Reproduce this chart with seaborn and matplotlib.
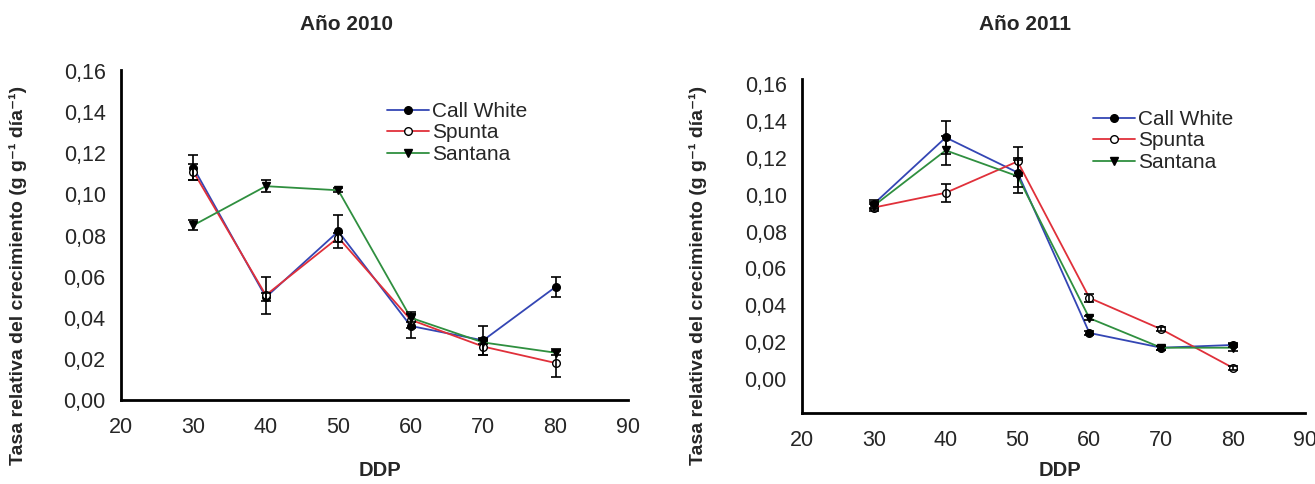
import numpy as np
import pandas as pd
import matplotlib
matplotlib.use("Agg")
import matplotlib.pyplot as plt
from matplotlib.ticker import FuncFormatter
import seaborn as sns

# datos
ddp = [30, 40, 50, 60, 70, 80]
cultivares = ["Call White", "Spunta", "Santana"]

cw_2010 = [0.113, 0.050, 0.082, 0.036, 0.029, 0.055]
sp_2010 = [0.111, 0.051, 0.079, 0.039, 0.026, 0.018]
sa_2010 = [0.085, 0.104, 0.102, 0.040, 0.028, 0.023]
cw_2010_err = [0.006, 0.002, 0.008, 0.006, 0.007, 0.005]
sp_2010_err = [0.004, 0.009, 0.002, 0.004, 0.004, 0.007]
sa_2010_err = [0.0025, 0.003, 0.001, 0.002, 0.001, 0.001]

cw_2011 = [0.095, 0.131, 0.112, 0.025, 0.017, 0.0185]
sp_2011 = [0.093, 0.101, 0.118, 0.044, 0.027, 0.006]
sa_2011 = [0.094, 0.124, 0.110, 0.033, 0.017, 0.017]
cw_2011_err = [0.002, 0.009, 0.008, 0.001, 0.001, 0.001]
sp_2011_err = [0.002, 0.005, 0.008, 0.002, 0.001, 0.001]
sa_2011_err = [0.002, 0.008, 0.009, 0.001, 0.001, 0.002]

colores = {"Call White": "#3446b4", "Spunta": "#e0303a", "Santana": "#2f8f3f"}
marcadores = {"Call White": ("o", "black"), "Spunta": ("o", "white"), "Santana": ("v", "black")}

sns.set_style("white")
plt.rcParams["font.family"] = ["Liberation Sans", "DejaVu Sans"]

fig = plt.figure(figsize=(13.15, 4.84), dpi=100)
ax1 = fig.add_axes([121 / 1315, 1 - 400 / 484, 507 / 1315, 330 / 484])
ax2 = fig.add_axes([802 / 1315, 1 - 413 / 484, 503 / 1315, 334 / 484])


def dibujar(ax, valores, errores):
    for nombre, y, e in zip(cultivares, valores, errores):
        df = pd.DataFrame({"DDP": ddp, "TRC": y})
        m, fc = marcadores[nombre]
        sns.lineplot(data=df, x="DDP", y="TRC", ax=ax, color=colores[nombre],
                     lw=1.3, marker=m, markersize=5.5, markerfacecolor=fc,
                     markeredgecolor="black", markeredgewidth=1.0,
                     label=nombre, zorder=3)
        ax.errorbar(ddp, y, yerr=e, fmt="none", ecolor="black",
                    elinewidth=1.2, capsize=3.5, capthick=1.2, zorder=4)

    ax.set_xlim(20, 90)
    ax.set_xticks(range(20, 91, 10))
    ax.set_yticks(np.arange(0, 0.161, 0.02))
    ax.yaxis.set_major_formatter(FuncFormatter(lambda v, p: f"{v:.2f}".replace(".", ",")))
    ax.set_xlabel("")
    ax.set_ylabel("")
    for s in ["top", "right"]:
        ax.spines[s].set_visible(False)
    for s in ["left", "bottom"]:
        ax.spines[s].set_color("black")
        ax.spines[s].set_linewidth(2)
    ax.tick_params(axis="y", direction="out", length=5, width=1.2, labelsize=15.5, pad=6)
    ax.tick_params(axis="x", direction="in", length=4, width=1.2, labelsize=15.5, pad=12)


dibujar(ax1, [cw_2010, sp_2010, sa_2010], [cw_2010_err, sp_2010_err, sa_2010_err])
dibujar(ax2, [cw_2011, sp_2011, sa_2011], [cw_2011_err, sp_2011_err, sa_2011_err])
ax1.set_ylim(0, 0.1605)
ax2.set_ylim(-0.0184, 0.1627)

ax1.legend(loc="upper left", bbox_to_anchor=(387 / 1315, 1 - 102 / 484),
           bbox_transform=fig.transFigure, frameon=False, fontsize=15,
           handlelength=2.0, handletextpad=0.15, labelspacing=0.12,
           borderpad=0, borderaxespad=0)
ax2.legend(loc="upper left", bbox_to_anchor=(1093 / 1315, 1 - 110 / 484),
           bbox_transform=fig.transFigure, frameon=False, fontsize=15,
           handlelength=2.0, handletextpad=0.15, labelspacing=0.12,
           borderpad=0, borderaxespad=0)

etiqueta_y = "Tasa relativa del crecimiento (g g⁻¹ día⁻¹)"
for x in [18, 698]:
    fig.text(x / 1315, 1 - 86 / 484, etiqueta_y, rotation=90, ha="center", va="top",
             fontsize=14, fontweight="bold")
for xc, titulo in [(347, "Año 2010"), (1025, "Año 2011")]:
    fig.text(xc / 1315, 1 - 25 / 484, titulo, ha="center", va="center",
             fontsize=15, fontweight="bold")
for xc in [380, 1060]:
    fig.text(xc / 1315, 1 - 471 / 484, "DDP", ha="center", va="center",
             fontsize=14.5, fontweight="bold")

fig.savefig("out.png", dpi=100)
